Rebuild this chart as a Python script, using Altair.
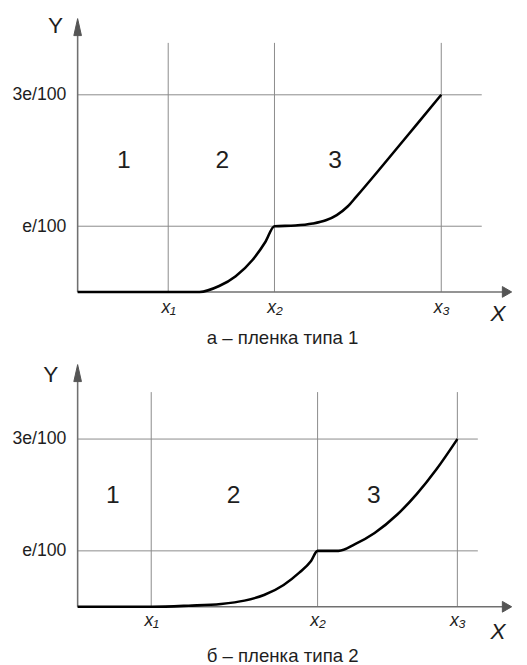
import altair as alt
import pandas as pd

FONT = "Liberation Sans"
TEXT_COLOR = "#1e1e1e"
GRID_COLOR = "#8a8a8a"
AXIS_COLOR = "#707070"

# ---------------- panel а ----------------
A_CURVE_X = [0, 28.0, 32.5, 36.3, 40.2, 43.1, 45.2, 50.0, 54.0, 57.0, 59.5, 62.0, 64.0, 70.0, 76.0, 83.5]
A_CURVE_Y = [0, 0, 0.09, 0.24, 0.49, 0.76, 1.0, 1.01, 1.04, 1.09, 1.17, 1.30, 1.45, 1.92, 2.40, 3.0]
A_XTICKS = [20.8, 45.2, 83.5]
A_YTICKS = [1, 3]
A_GRID_TOP = 3.79
A_GRID_RIGHT = 92.8
A_REGION_X = [10.6, 33.2, 59.1]
A_REGION_Y = [2.0, 2.0, 2.0]
A_CAPTION = "а – пленка типа 1"

# ---------------- panel б ----------------
B_CURVE_X = [0, 17.1, 25.5, 32.9, 38.3, 42.8, 47.3, 50.9, 53.6, 55.1, 59.9, 63.7, 68.2, 73.4, 77.9, 82.4, 87.2]
B_CURVE_Y = [0, 0, 0.02, 0.05, 0.11, 0.21, 0.39, 0.61, 0.82, 1.0, 1.0, 1.12, 1.32, 1.65, 2.02, 2.46, 3.0]
B_XTICKS = [16.9, 55.1, 87.2]
B_YTICKS = [1, 3]
B_GRID_TOP = 3.84
B_GRID_RIGHT = 91.9
B_REGION_X = [8.1, 35.8, 68.0]
B_REGION_Y = [2.0, 2.0, 2.0]
B_CAPTION = "б – пленка типа 2"

X_TICK_LABELS = ["x₁", "x₂", "x₃"]
Y_TICK_LABELS = ["e/100", "3e/100"]
REGION_LABELS = ["1", "2", "3"]

X_MAX = 100
ARROW_X = 98.6


def make_panel(cx, cy, xticks, yticks, grid_top, grid_right, rx, ry, caption,
               height, ymax, arrow_y, xlab_pad, xtitle_y, ytitle_x, ytitle_y):
    xlabel_expr = "%s[indexof(%s, datum.value)]" % (
        "[" + ",".join("'%s'" % s for s in X_TICK_LABELS) + "]",
        "[" + ",".join(str(v) for v in xticks) + "]")
    ylabel_expr = "%s[indexof(%s, datum.value)]" % (
        "[" + ",".join("'%s'" % s for s in Y_TICK_LABELS) + "]",
        "[" + ",".join(str(v) for v in yticks) + "]")

    xaxis = alt.Axis(values=xticks, labelExpr=xlabel_expr, domain=False, ticks=False,
                     grid=False, labelPadding=xlab_pad, labelFontSize=18,
                     labelFont=FONT, labelFontStyle="italic", labelColor=TEXT_COLOR,
                     title="X", titleX=428, titleY=xtitle_y, titleAngle=0,
                     titleFontSize=23, titleFont=FONT, titleFontWeight="normal",
                     titleFontStyle="italic", titleColor=TEXT_COLOR,
                     titleBaseline="middle", titleAlign="center")
    yaxis = alt.Axis(values=yticks, labelExpr=ylabel_expr, domain=False, ticks=False,
                     grid=False, labelPadding=12, labelFontSize=18, labelFont=FONT,
                     labelColor=TEXT_COLOR,
                     title="Y", titleX=ytitle_x, titleY=ytitle_y, titleAngle=0,
                     titleFontSize=23, titleFont=FONT, titleFontWeight="normal",
                     titleColor=TEXT_COLOR, titleBaseline="middle", titleAlign="center")
    xs = alt.Scale(domain=[0, X_MAX], nice=False, zero=False)
    ys = alt.Scale(domain=[0, ymax], nice=False, zero=False)

    def X(f="x"):
        return alt.X(f + ":Q", scale=xs, axis=xaxis)

    def Y(f="y"):
        return alt.Y(f + ":Q", scale=ys, axis=yaxis)

    vgrid = pd.DataFrame({"x": xticks, "y": [0] * len(xticks), "y2": [grid_top] * len(xticks)})
    hgrid = pd.DataFrame({"y": yticks, "x": [0] * len(yticks), "x2": [grid_right] * len(yticks)})
    axes = pd.DataFrame({"x": [0, 0], "x2": [ARROW_X, 0], "y": [0, 0], "y2": [0, arrow_y]})
    up = pd.DataFrame({"x": [0], "y": [arrow_y]})
    right = pd.DataFrame({"x": [ARROW_X], "y": [0]})
    curve = pd.DataFrame({"x": cx, "y": cy})
    regions = pd.DataFrame({"x": rx, "y": ry, "t": REGION_LABELS})

    l_vgrid = alt.Chart(vgrid).mark_rule(color=GRID_COLOR, strokeWidth=1).encode(
        x=X(), y=Y(), y2="y2:Q")
    l_hgrid = alt.Chart(hgrid).mark_rule(color=GRID_COLOR, strokeWidth=1).encode(
        x=X(), x2="x2:Q", y=Y())
    l_axes = alt.Chart(axes).mark_rule(color=AXIS_COLOR, strokeWidth=1.6).encode(
        x=X(), x2="x2:Q", y=Y(), y2="y2:Q")
    l_up = alt.Chart(up).mark_point(shape="M0,-1L0.45,1L-0.45,1Z", filled=True,
                                    fill="#555555", stroke="#555555", strokeWidth=1,
                                    opacity=1, fillOpacity=1, size=300).encode(x=X(), y=Y())
    l_right = alt.Chart(right).mark_point(shape="triangle-right", filled=True,
                                          fill="#555555", stroke="#555555", strokeWidth=1,
                                          opacity=1, fillOpacity=1, size=120).encode(
        x=X(), y=Y())
    l_curve = alt.Chart(curve).mark_line(color="black", strokeWidth=2.6,
                                         interpolate="monotone").encode(x=X(), y=Y())
    l_regions = alt.Chart(regions).mark_text(font=FONT, fontSize=25, color=TEXT_COLOR,
                                             baseline="middle", align="center").encode(
        x=X(), y=Y(), text="t:N")

    return alt.layer(l_vgrid, l_hgrid, l_axes, l_up, l_right, l_curve, l_regions).properties(
        width=444, height=height,
        title=alt.TitleParams(text=caption, orient="bottom", fontSize=19,
                              fontWeight="normal", font=FONT, color=TEXT_COLOR,
                              offset=4, dx=-13, anchor="middle"))


top = make_panel(A_CURVE_X, A_CURVE_Y, A_XTICKS, A_YTICKS, A_GRID_TOP, A_GRID_RIGHT,
                 A_REGION_X, A_REGION_Y, A_CAPTION,
                 height=283, ymax=283 / 67, arrow_y=4.03, xlab_pad=7, xtitle_y=22,
                 ytitle_x=-23, ytitle_y=12)
bottom = make_panel(B_CURVE_X, B_CURVE_Y, B_XTICKS, B_YTICKS, B_GRID_TOP, B_GRID_RIGHT,
                    B_REGION_X, B_REGION_Y, B_CAPTION,
                    height=252, ymax=252 / 57, arrow_y=4.18, xlab_pad=5, xtitle_y=25,
                    ytitle_x=-28, ytitle_y=15)

chart = alt.vconcat(top, bottom, spacing=12).properties(
    padding={"left": 3, "top": 0, "right": 5, "bottom": 0}
).configure_view(stroke=None)

chart.save("out.html", embed_options={"renderer": "svg", "actions": False})
